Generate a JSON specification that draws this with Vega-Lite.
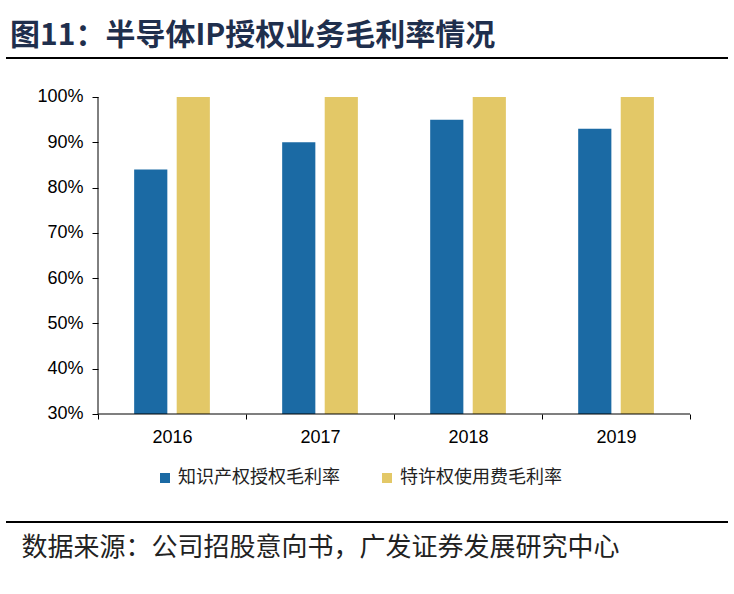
{
  "$schema": "https://vega.github.io/schema/vega-lite/v6.json",
  "background": "white",
  "padding": {"left": 5, "right": 5, "top": 21, "bottom": 10},
  "width": 722,
  "height": 464,
  "title": {
    "text": "图11：半导体IP授权业务毛利率情况",
    "anchor": "start",
    "frame": "group",
    "fontSize": 30,
    "fontWeight": "bold",
    "font": "Noto Sans CJK SC",
    "color": "#1f2f4d",
    "offset": 6,
    "dx": 4
  },
  "data": {
    "values": [
      {"year": "2016", "series": "知识产权授权毛利率", "value": 0.84},
      {"year": "2016", "series": "特许权使用费毛利率", "value": 1.0},
      {"year": "2017", "series": "知识产权授权毛利率", "value": 0.90},
      {"year": "2017", "series": "特许权使用费毛利率", "value": 1.0},
      {"year": "2018", "series": "知识产权授权毛利率", "value": 0.95},
      {"year": "2018", "series": "特许权使用费毛利率", "value": 1.0},
      {"year": "2019", "series": "知识产权授权毛利率", "value": 0.93},
      {"year": "2019", "series": "特许权使用费毛利率", "value": 1.0}
    ]
  },
  "encoding": {
    "x": {
      "field": "year",
      "type": "nominal",
      "scale": {"paddingInner": 0, "paddingOuter": 0.439, "align": 0.708},
      "axis": {
        "title": "数据来源：公司招股意向书，广发证券发展研究中心",
        "titleFont": "Noto Sans CJK SC",
        "titleFontSize": 26,
        "titleFontWeight": "normal",
        "titleColor": "#222222",
        "titleAnchor": "start",
        "titleAlign": "left",
        "titleX": 15,
        "titlePadding": 88,
        "offset": -108,
        "domain": false,
        "labelAngle": 0,
        "tickBand": "extent",
        "labelFont": "Liberation Sans",
        "labelFontSize": 18,
        "labelColor": "black",
        "labelPadding": 9,
        "tickColor": "black",
        "tickSize": 5
      }
    },
    "y": {
      "type": "quantitative",
      "scale": {"domain": [0.0615, 1.0861], "nice": false, "zero": false},
      "axis": {
        "title": null,
        "format": ".0%",
        "values": [0.3, 0.4, 0.5, 0.6, 0.7, 0.8, 0.9, 1.0],
        "grid": false,
        "domain": false,
        "offset": -92,
        "labelFont": "Liberation Sans",
        "labelFontSize": 18,
        "labelColor": "black",
        "labelPadding": 9,
        "tickColor": "black",
        "tickSize": 6
      }
    }
  },
  "layer": [
    {
      "mark": {"type": "bar"},
      "encoding": {
        "xOffset": {
          "field": "series",
          "sort": ["知识产权授权毛利率", "特许权使用费毛利率"],
          "scale": {"paddingInner": 0.22, "paddingOuter": 0.85}
        },
        "y": {"field": "value", "type": "quantitative"},
        "y2": {"datum": 0.3},
        "color": {
          "field": "series",
          "type": "nominal",
          "sort": ["知识产权授权毛利率", "特许权使用费毛利率"],
          "scale": {
            "domain": ["知识产权授权毛利率", "特许权使用费毛利率"],
            "range": ["#1b6aa4", "#e3c867"]
          },
          "legend": {
            "title": null,
            "orient": "none",
            "direction": "horizontal",
            "legendX": 150,
            "legendY": 411,
            "symbolType": "square",
            "symbolSize": 100,
            "symbolStrokeWidth": 0,
            "labelFont": "Noto Sans CJK SC",
            "labelFontSize": 18,
            "labelColor": "#222222",
            "labelLimit": 0,
            "columnPadding": 38
          }
        }
      }
    },
    {
      "transform": [{"filter": "datum.series == '知识产权授权毛利率'"}],
      "mark": {"type": "bar", "height": 1, "color": "black"},
      "encoding": {
        "y": {"datum": 0.3},
        "width": {"band": 1}
      }
    },
    {
      "transform": [{"filter": "datum.year == '2016' && datum.series == '知识产权授权毛利率'"}],
      "mark": {"type": "rule", "color": "black", "strokeWidth": 1},
      "encoding": {
        "x": {"field": "year", "type": "nominal", "bandPosition": 0},
        "y": {"datum": 0.3},
        "y2": {"datum": 1.0}
      }
    },
    {
      "transform": [{"filter": "datum.year == '2016' && datum.series == '知识产权授权毛利率'"}],
      "mark": {"type": "rule", "color": "black", "strokeWidth": 2},
      "encoding": {"x": null, "y": {"datum": 1.0861}}
    },
    {
      "transform": [{"filter": "datum.year == '2016' && datum.series == '知识产权授权毛利率'"}],
      "mark": {"type": "rule", "color": "black", "strokeWidth": 2},
      "encoding": {"x": null, "y": {"datum": 0.0615}}
    }
  ],
  "config": {"view": {"stroke": null}}
}
